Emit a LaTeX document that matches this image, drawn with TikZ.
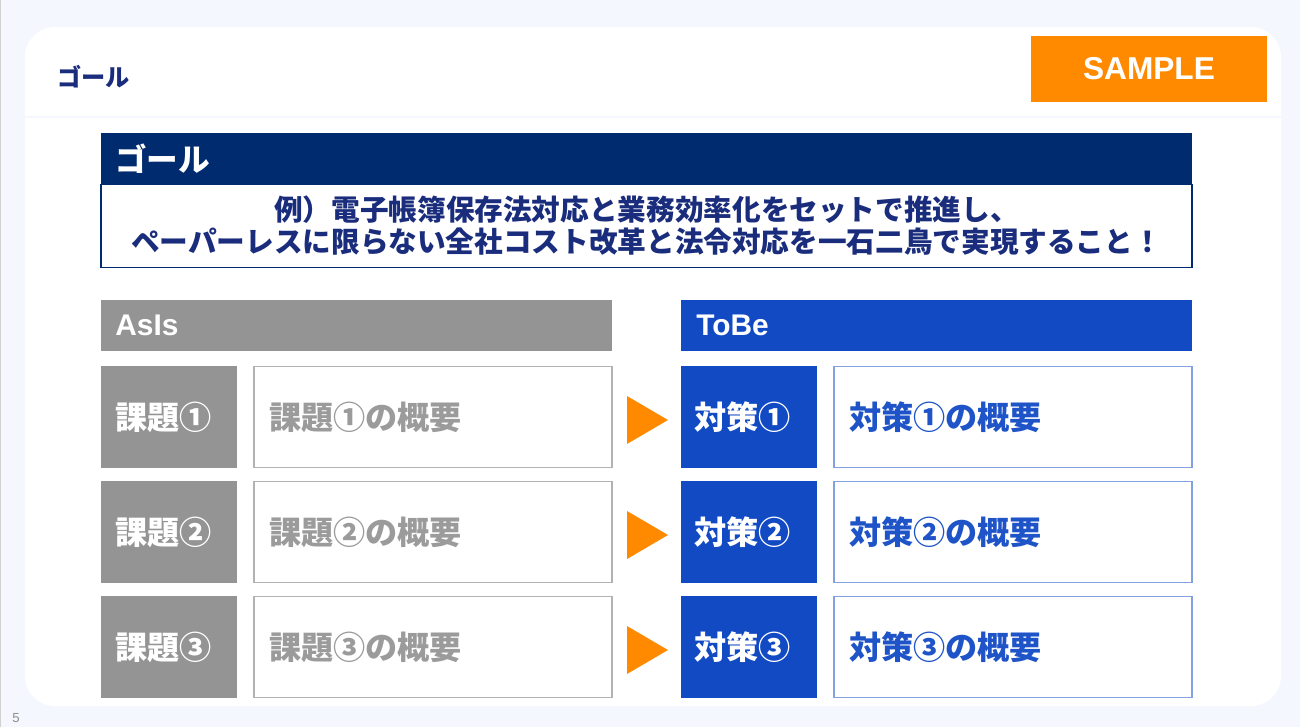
\documentclass[tikz,border=0pt]{standalone}
\usepackage{fontspec}
\setmainfont{Liberation Sans}
\newfontfamily\jp{Noto Sans CJK JP}
\usepackage{tikz}
\usepackage{xcolor}

\definecolor{pagebg}{RGB}{244,247,253}
\definecolor{navy}{RGB}{0,43,110}
\definecolor{navytext}{RGB}{26,44,124}
\definecolor{tobeblue}{RGB}{18,74,196}
\definecolor{asisgray}{RGB}{148,148,148}
\definecolor{notegray}{RGB}{155,155,155}
\definecolor{noteblue}{RGB}{30,84,200}
\definecolor{sampleorange}{RGB}{255,138,0}

\newcommand{\px}{0.02cm}

\begin{document}
\begin{tikzpicture}[x=0.02cm, y=-0.02cm,
    band/.style={inner sep=0pt, outer sep=0pt, minimum height=51*\px, minimum width=511*\px},
    headtext/.style={inner sep=0pt, text=white, font=\bfseries\fontsize{17}{20}\selectfont, anchor=west},
    tagbox/.style={inner sep=0pt, inner xsep=14*\px, outer sep=0pt, minimum height=102*\px,
        text width=108*\px, align=left, text=white, font=\jp\bfseries\fontsize{18.3}{22}\selectfont},
    notebox/.style={draw, line width=1pt, fill=white, inner sep=0pt, inner xsep=15*\px, outer sep=0pt,
        minimum height=101*\px, text width=328*\px, align=left, font=\jp\bfseries\fontsize{18.3}{22}\selectfont}]
    \useasboundingbox (0,0) rectangle (1300,727);
    \fill[pagebg] (0,0) rectangle (1300,727);
    \draw[black!18, line width=1pt] (0.5,0) -- (0.5,727);
    \fill[white, rounded corners=0.6cm] (25,27) rectangle (1281,706);
    \draw[pagebg, line width=1pt] (25,117) -- (1281,117);
    \node[anchor=west, inner sep=0pt, text=navytext, font=\jp\bfseries\fontsize{13.8}{16}\selectfont] (title) at (57,77) {ゴール};
    \node[fill=sampleorange, minimum width=236*\px, minimum height=66*\px, inner sep=0pt, text=white,
        font=\bfseries\fontsize{18}{21}\selectfont] (sample) at (1149,69) {SAMPLE};

    % goal
    \node[band, fill=navy, minimum width=1091*\px] (goalhead) at (646.5,158.5) {};
    \node[headtext, font=\jp\bfseries\fontsize{18}{21}\selectfont] (goalname) at (115,158.5) {ゴール};
    \node[draw=navy, line width=1pt, minimum width=1091*\px, minimum height=83*\px, inner sep=0pt,
        align=center, text=navytext, font=\jp\bfseries\fontsize{16.3}{18.2}\selectfont] (goalbody) at (646.5,226)
        {例）電子帳簿保存法対応と業務効率化をセットで推進し、\\ペーパーレスに限らない全社コスト改革と法令対応を一石二鳥で実現すること！};

    % asis / tobe
    \node[band, fill=asisgray] (asis) at (356.5,325.5) {};
    \node[headtext] (asisname) at (115,325.5) {AsIs};
    \node[band, fill=tobeblue] (tobe) at (936.5,325.5) {};
    \node[headtext] (tobename) at (696,325.5) {ToBe};

    \foreach \i/\c/\y in {1/①/417, 2/②/532, 3/③/647} {
        \node[tagbox, fill=asisgray] (issue\i) at (169,\y) {課題\c};
        \node[notebox, draw=black!30, text=notegray] (issuenote\i) at (433,\y) {課題\c{}の概要};
        \fill[sampleorange] (627,\y-21) -- (668,\y+3) -- (627,\y+27) -- cycle;
        \node[tagbox, fill=tobeblue, minimum width=135*\px] (measure\i) at (748.5,\y) {対策\c};
        \node[notebox, draw=noteblue!55, text=noteblue] (measurenote\i) at (1013,\y) {対策\c{}の概要};
    }

    \node[text=black!45, font=\fontsize{7.5}{9}\selectfont, inner sep=0pt] (pageno) at (16,718) {5};
\end{tikzpicture}
\end{document}
